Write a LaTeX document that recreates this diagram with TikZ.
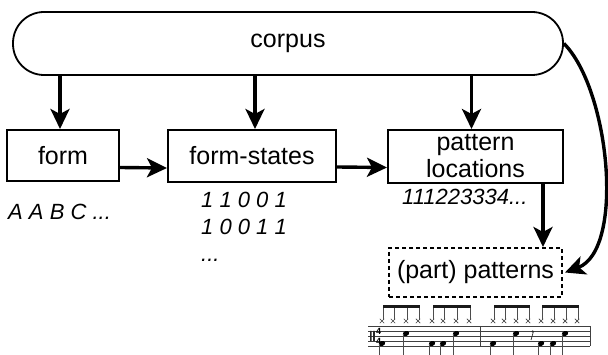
\documentclass[tikz,border=0pt]{standalone}
\usepackage{fontspec}
\setmainfont{Liberation Sans}
\usetikzlibrary{arrows.meta}
\begin{document}
\begin{tikzpicture}[x=1pt,y=-1pt,
  lbl/.style={font=\fontsize{25}{28}\selectfont},
  box/.style={draw, line width=2pt, lbl, inner sep=0pt, align=center},
  seq/.style={font=\fontsize{22}{27}\selectfont\itshape, inner sep=0pt, anchor=west, align=left},
  arr/.style={line width=3.4pt, -{Stealth[length=20pt,width=19pt,inset=5pt]}},
  staffline/.style={line width=0.6pt, black!75},
  stemline/.style={line width=0.8pt, black!70},
  hat/.style={line width=0.7pt, black!75},
]
\useasboundingbox (0,0) rectangle (608,355);

% main nodes
\node[box, line width=1.8pt, rounded corners=31pt, minimum width=550pt, minimum height=63pt] (corpus) at (288,43.5) {corpus};
\node[box, minimum width=112pt, minimum height=51pt] (form) at (63,155.5) {form};
\node[box, minimum width=168pt, minimum height=52pt] (fs) at (252,156) {form-states};
\node[box, minimum width=175pt, minimum height=53pt, font=\fontsize{25}{27}\selectfont] (pl) at (475.5,156.5) {pattern\\locations};
\node[box, dashed, dash pattern=on 4pt off 3pt, minimum width=173pt, minimum height=49pt] (pp) at (475.5,272.5) {(part) patterns};

% sequences printed under the boxes
\node[seq] (abc) at (8,212) {A A B C ...};
\node[seq, anchor=north west] (bits) at (201,192) {1 1 0 0 1\\1 0 0 1 1\\...};
\node[seq] (locs) at (402,197) {111223334...};

% connectors
\draw[arr] ([xshift=-3pt]form.north |- corpus.south) -- ([xshift=-3pt]form.north);
\draw[arr] ([xshift=3pt]fs.north |- corpus.south) -- ([xshift=3pt]fs.north);
\draw[arr] ([xshift=-4pt]pl.north |- corpus.south) -- ([xshift=-4pt]pl.north);
\draw[arr] ([yshift=-12pt]form.east) -- ([yshift=-12pt]fs.west);
\draw[arr] ([yshift=-11pt]fs.east) -- ([yshift=-11pt]pl.west);
\draw[arr] ([xshift=67.5pt]pl.south) -- ([xshift=67.5pt]pp.north);
\draw[arr] (corpus.east) .. controls (610,90) and (625,250) .. ([xshift=2pt]pp.east);

% drum notation: staff
\foreach \y in {326,331,336,341,346}
  \draw[staffline] (368,\y) -- (590,\y);
\draw[line width=0.9pt, black!75] (480,326) -- (480,346) (590,326) -- (590,346);
% percussion clef and time signature
\fill[black!85] (370,331) rectangle (371.6,341) (373.2,331) rectangle (374.8,341);
\node[inner sep=0pt, font=\fontsize{9}{9}\selectfont\bfseries] (ts1) at (378.5,331) {4};
\node[inner sep=0pt, font=\fontsize{9}{9}\selectfont\bfseries] (ts2) at (378.5,341) {4};

% hi-hat cross heads with stems and beams
\foreach \x in {382,393,406,418,432,443,456,469,493,504,516,528,541,553,565,577}{
  \draw[hat] (\x-2.2,318.8) -- (\x+2.2,323.2) (\x-2.2,323.2) -- (\x+2.2,318.8);
  \draw[stemline] (\x+1.8,320) -- (\x+1.8,306);
}
\foreach \a/\b in {382/418,432/469,493/528,541/577}
  \fill[black!90] (\a+1.4,304.8) rectangle (\b+2.2,308);

% bass drum and snare heads with stems down
\foreach \x/\y in {382/343.5,432/343.5,443/343.5,493/343.5,541/343.5,553/343.5,
                   406/333.5,456/333.5,516/333.5,565/333.5}{
  \fill[black, rotate around={20:(\x,\y)}] (\x,\y) ellipse (3.3 and 2.4);
  \draw[stemline] (\x-2.9,\y+0.8) -- (\x-2.9,355);
}
% eighth rest
\fill[black!85] (532.5,331.5) circle (1.2pt);
\draw[line width=0.7pt, black!85] (533.6,331) -- (531,340);
\end{tikzpicture}
\end{document}
